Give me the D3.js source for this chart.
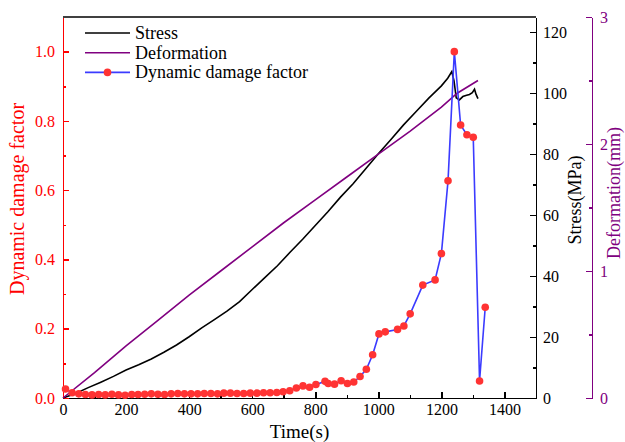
<!DOCTYPE html>
<html>
<head>
<meta charset="utf-8">
<script src="https://cdn.jsdelivr.net/npm/d3@7"></script>
<style>
  body { margin: 0; background: #fff; }
  svg { font-family: 'Liberation Serif', 'Times New Roman', serif; }
  .axis path, .axis line { shape-rendering: crispEdges; }
</style>
</head>
<body>
<script>
// stress (MPa) vs time
var stressTime = [0, 40, 80, 120, 160, 200, 240, 280, 320, 360, 400, 440, 480, 520, 560, 600, 640, 680, 720, 760, 800, 840, 880, 920, 960, 1000, 1040, 1080, 1120, 1160, 1200, 1220, 1233, 1240, 1247, 1257, 1268, 1280, 1289, 1298, 1305, 1310, 1316]
var stressValue = [0, 1.5, 3.4, 5.2, 7.1, 9.2, 10.9, 12.8, 15.0, 17.4, 20.1, 23.0, 25.7, 28.5, 31.6, 35.6, 39.5, 43.4, 47.8, 52.1, 56.6, 61.1, 65.9, 70.3, 75.2, 80.1, 84.8, 89.6, 94.0, 98.4, 102.4, 104.9, 107.1, 104.0, 98.5, 97.8, 98.9, 99.3, 99.6, 100.2, 101.3, 99.6, 98.2]

// deformation (mm) vs time
var defTime = [0, 100, 200, 300, 400, 500, 600, 700, 800, 900, 1000, 1100, 1200, 1250, 1316]
var defValue = [0, 0.20, 0.41, 0.61, 0.81, 1.00, 1.19, 1.38, 1.56, 1.74, 1.92, 2.10, 2.29, 2.40, 2.50]

// dynamic damage factor vs time
var damageTime = [8, 29, 50, 71, 92, 113, 134, 155, 176, 197, 218, 238, 259, 280, 301, 322, 343, 364, 385, 406,
  427, 448, 469, 490, 510, 531, 552, 573, 594, 615, 636, 657, 678, 698, 719, 740, 761, 782, 802,
  831, 841, 861, 882, 902, 922, 942, 962, 982, 1002, 1022, 1061, 1081, 1101, 1141, 1180, 1200, 1221,
  1241, 1261, 1281, 1301, 1321, 1339]
var damageValue = [0.026, 0.015, 0.012, 0.010, 0.009, 0.010, 0.009, 0.011, 0.009, 0.008, 0.010, 0.010, 0.011, 0.012, 0.011, 0.010, 0.012, 0.013, 0.012, 0.012,
  0.012, 0.013, 0.013, 0.012, 0.014, 0.014, 0.013, 0.013, 0.014, 0.014, 0.015, 0.015, 0.016, 0.018, 0.021, 0.029, 0.035, 0.031, 0.039,
  0.048, 0.042, 0.040, 0.050, 0.042, 0.046, 0.062, 0.083, 0.125, 0.185, 0.191, 0.198, 0.208, 0.243, 0.326, 0.341, 0.417, 0.627,
  1.0, 0.788, 0.760, 0.753, 0.049, 0.262]

var timeTicks = [0, 200, 400, 600, 800, 1000, 1200, 1400]
var damageTicks = [0, 0.2, 0.4, 0.6, 0.8, 1.0]
var stressTicks = [0, 20, 40, 60, 80, 100, 120]
var defTicks = [0, 1, 2, 3]

var legendNames = ['Stress', 'Deformation', 'Dynamic damage factor']

var plotLeft = 63
var plotRight = 536
var plotTop = 17
var plotBottom = 398

var purple = '#800080'
var red = '#ff0000'
var blue = '#3b3bff'
var dotRed = '#ff3333'

var x = d3.scaleLinear().domain([0, 1500]).range([plotLeft, plotRight])
var yDamage = d3.scaleLinear().domain([0, 1.1]).range([plotBottom, plotTop])
var yStress = d3.scaleLinear().domain([0, 125]).range([plotBottom, plotTop])
var yDef = d3.scaleLinear().domain([0, 3]).range([plotBottom, plotTop])

var svg = d3.select('body').append('svg')
  .attr('width', 625)
  .attr('height', 442)

function minor (axis, values) {
  return axis.tickValues(values).tickSize(-3).tickSizeOuter(0).tickFormat('')
}

// frame top
svg.append('line')
  .attr('x1', plotLeft).attr('x2', plotRight)
  .attr('y1', plotTop).attr('y2', plotTop)
  .attr('stroke', '#000').attr('stroke-width', 1.5)

// bottom axis
svg.append('g')
  .attr('class', 'axis')
  .attr('transform', 'translate(0,' + plotBottom + ')')
  .call(minor(d3.axisBottom(x), d3.range(100, 1500, 200)))
svg.append('g')
  .attr('class', 'axis x')
  .attr('transform', 'translate(0,' + plotBottom + ')')
  .call(d3.axisBottom(x).tickValues(timeTicks).tickSize(-6).tickPadding(6).tickSizeOuter(0).tickFormat(d3.format('d')))

// left damage axis
svg.append('g')
  .attr('class', 'axis ylm')
  .attr('transform', 'translate(' + plotLeft + ',0)')
  .call(minor(d3.axisLeft(yDamage), d3.range(0.1, 1.1, 0.2)))
svg.append('g')
  .attr('class', 'axis yl')
  .attr('transform', 'translate(' + plotLeft + ',0)')
  .call(d3.axisLeft(yDamage).tickValues(damageTicks).tickSize(-6).tickPadding(8).tickSizeOuter(0).tickFormat(d3.format('.1f')))

// right stress axis
svg.append('g')
  .attr('class', 'axis')
  .attr('transform', 'translate(' + plotRight + ',0)')
  .call(minor(d3.axisRight(yStress), d3.range(10, 125, 20)))
svg.append('g')
  .attr('class', 'axis yr')
  .attr('transform', 'translate(' + plotRight + ',0)')
  .call(d3.axisRight(yStress).tickValues(stressTicks).tickSize(-6).tickPadding(7).tickSizeOuter(0))

// deformation axis
var defX = 592
svg.append('g')
  .attr('class', 'axis ydm')
  .attr('transform', 'translate(' + defX + ',0)')
  .call(minor(d3.axisRight(yDef), [0.5, 1.5, 2.5]))
svg.append('g')
  .attr('class', 'axis yd')
  .attr('transform', 'translate(' + defX + ',0)')
  .call(d3.axisRight(yDef).tickValues(defTicks).tickSize(-6).tickPadding(8).tickSizeOuter(0).tickFormat(d3.format('d')))

svg.selectAll('.axis path').attr('stroke-width', 1.5)
svg.selectAll('.axis line').attr('stroke-width', 1.5)
svg.selectAll('.axis text').attr('font-size', 16).attr('font-family', 'Liberation Serif').attr('fill', '#000')

svg.selectAll('.yl path, .yl line, .ylm path, .ylm line').attr('stroke', red)
svg.selectAll('.yl text').attr('fill', red)
svg.selectAll('.yd path, .yd line, .ydm path, .ydm line').attr('stroke', purple)
svg.selectAll('.yd text').attr('fill', purple)

// axis titles
svg.append('text')
  .attr('x', (plotLeft + plotRight) / 2).attr('y', 438)
  .attr('text-anchor', 'middle')
  .attr('font-size', 19)
  .text('Time(s)')

svg.append('text')
  .attr('transform', 'translate(24,199) rotate(-90)')
  .attr('text-anchor', 'middle')
  .attr('font-size', 20)
  .attr('fill', red)
  .text('Dynamic damage factor')

svg.append('text')
  .attr('transform', 'translate(581,200) rotate(-90)')
  .attr('text-anchor', 'middle')
  .attr('font-size', 18)
  .text('Stress(MPa)')

svg.append('text')
  .attr('transform', 'translate(620,193) rotate(-90)')
  .attr('text-anchor', 'middle')
  .attr('font-size', 18)
  .attr('fill', purple)
  .text('Deformation(mm)')

// series
var stressData = stressTime.map(function (t, i) { return [t, stressValue[i]] })
var defData = defTime.map(function (t, i) { return [t, defValue[i]] })
var damageData = damageTime.map(function (t, i) { return [t, damageValue[i]] })

svg.append('path')
  .datum(stressData)
  .attr('fill', 'none')
  .attr('stroke', '#000')
  .attr('stroke-width', 1.6)
  .attr('d', d3.line().x(function (d) { return x(d[0]) }).y(function (d) { return yStress(d[1]) }))

svg.append('path')
  .datum(defData)
  .attr('fill', 'none')
  .attr('stroke', purple)
  .attr('stroke-width', 1.6)
  .attr('d', d3.line().x(function (d) { return x(d[0]) }).y(function (d) { return yDef(d[1]) }))

svg.append('path')
  .datum(damageData)
  .attr('fill', 'none')
  .attr('stroke', blue)
  .attr('stroke-width', 1.6)
  .attr('d', d3.line().x(function (d) { return x(d[0]) }).y(function (d) { return yDamage(d[1]) }))

svg.selectAll('.dot')
  .data(damageData)
  .enter().append('circle')
  .attr('class', 'dot')
  .attr('cx', function (d) { return x(d[0]) })
  .attr('cy', function (d) { return yDamage(d[1]) })
  .attr('r', 3.8)
  .attr('fill', dotRed)

// legend
var legendColor = ['#000', purple, blue]
var legend = svg.selectAll('.legend')
  .data(legendNames)
  .enter().append('g')
  .attr('class', 'legend')
  .attr('transform', function (d, i) { return 'translate(85,' + (33 + i * 19.7) + ')' })

legend.append('line')
  .attr('x1', 0).attr('x2', 45)
  .attr('stroke', function (d, i) { return legendColor[i] })
  .attr('stroke-width', 1.6)

legend.filter(function (d, i) { return i === 2 }).append('circle')
  .attr('cx', 22.5).attr('r', 3.8).attr('fill', dotRed)

legend.append('text')
  .attr('x', 50)
  .attr('y', 6)
  .attr('font-size', 18)
  .text(function (d) { return d })
</script>
</body>
</html>
